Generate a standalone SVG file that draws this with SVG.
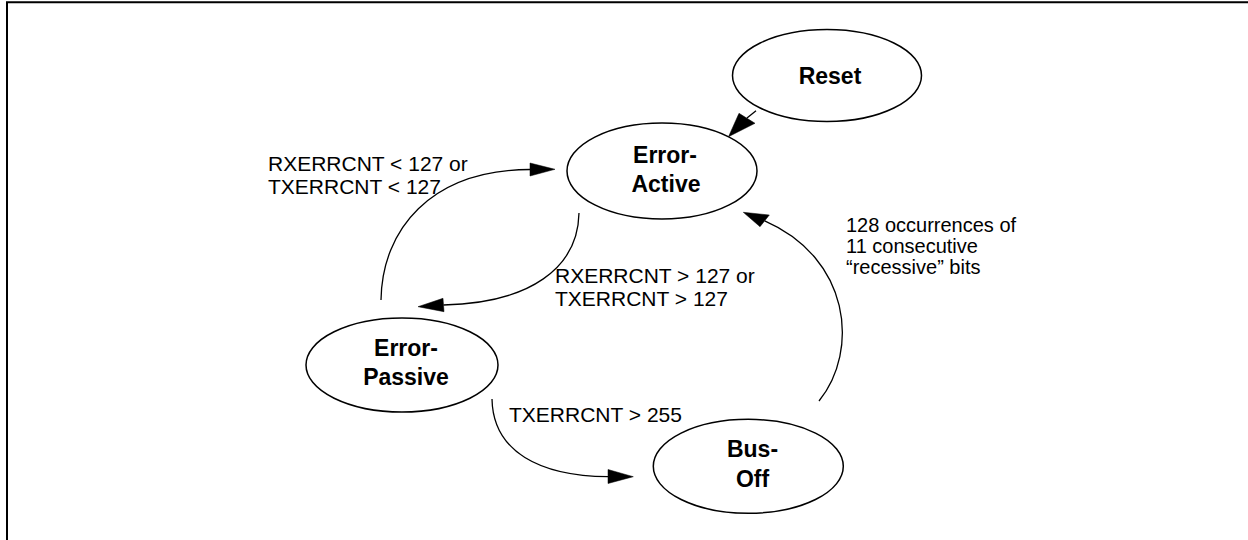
<svg xmlns="http://www.w3.org/2000/svg" width="1248" height="540" viewBox="0 0 1248 540">
<style>
.node ellipse{fill:#fff;stroke:#000;stroke-width:1.5}
.node text{font-family:"Liberation Sans",Arial,sans-serif;font-weight:bold;font-size:23px;fill:#000;text-anchor:middle}
.lbl{font-family:"Liberation Sans",Arial,sans-serif;font-size:21px;fill:#000}
.lbl2{font-family:"Liberation Sans",Arial,sans-serif;font-size:20px;fill:#000}
.conn{fill:none;stroke:#000;stroke-width:1.3}
.head{fill:#000;stroke:#000;stroke-width:0.5;stroke-linejoin:miter}
</style>
<rect width="1248" height="540" fill="#fff"/>
<path d="M7,540 V2.2 H1248" fill="none" stroke="#000" stroke-width="2"/>
<g id="connectors">
<path class="conn" d="M756,110.7 L747,118"/>
<polygon class="head" points="728.5,136.7 739,113.3 755,123.3"/>
<path class="conn" d="M381,300 C382,230 430,170 530,169.5"/>
<polygon class="head" points="555,169.3 530,163 530,176"/>
<path class="conn" d="M579,213 C578,268 530,303 443.5,305"/>
<polygon class="head" points="418,306.7 443,298.3 444,311.7"/>
<path class="conn" d="M492,399 C493,452 540,476 608,476.7"/>
<polygon class="head" points="633.3,476.7 608,469.5 608,483.5"/>
<path class="conn" d="M819,401 C860,350 850,258 764.7,220.8"/>
<polygon class="head" points="743.3,212.3 760,226.7 769.3,215"/>
</g>
<g id="labels">
<text class="lbl" x="268" y="171">RXERRCNT &lt; 127 or</text>
<text class="lbl" x="268" y="194">TXERRCNT &lt; 127</text>
<text class="lbl" x="555" y="283">RXERRCNT &gt; 127 or</text>
<text class="lbl" x="555" y="306">TXERRCNT &gt; 127</text>
<text class="lbl" x="509" y="422">TXERRCNT &gt; 255</text>
<text class="lbl2" x="846" y="232">128 occurrences of</text>
<text class="lbl2" x="846" y="253">11 consecutive</text>
<text class="lbl2" x="846" y="274">“recessive” bits</text>
</g>
<g id="reset" class="node">
<ellipse cx="827" cy="75.5" rx="94.5" ry="46"/>
<text x="830" y="84">Reset</text>
</g>
<g id="error-active" class="node">
<ellipse cx="662" cy="171" rx="95" ry="48"/>
<text x="665" y="163">Error-</text>
<text x="666" y="191.5">Active</text>
</g>
<g id="error-passive" class="node">
<ellipse cx="402" cy="365" rx="96" ry="47"/>
<text x="406" y="356">Error-</text>
<text x="406" y="385">Passive</text>
</g>
<g id="bus-off" class="node">
<ellipse cx="748.3" cy="466.3" rx="95" ry="47"/>
<text x="752.5" y="456.5">Bus-</text>
<text x="752.5" y="487">Off</text>
</g>
</svg>
